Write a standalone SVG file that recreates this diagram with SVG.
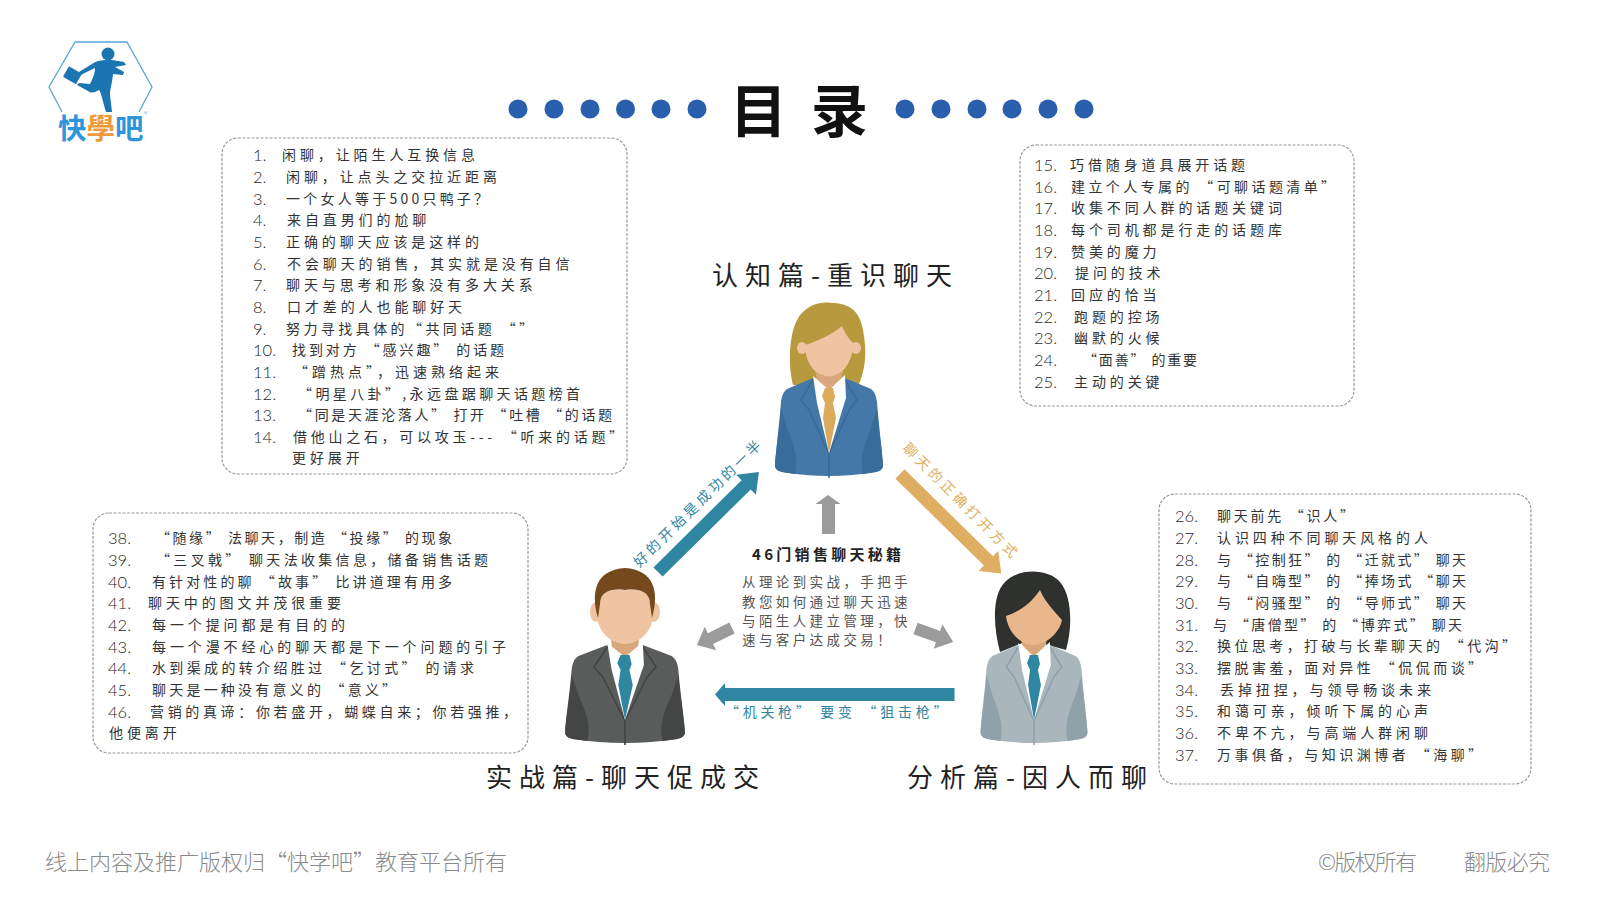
<svg xmlns="http://www.w3.org/2000/svg" width="1600" height="899" viewBox="0 0 1600 899">
<style>
text{font-family:"Noto Sans CJK SC","Noto Sans",sans-serif;white-space:pre}
.n{font-family:"Lato","Noto Sans",sans-serif;font-weight:300;font-size:16.5px;fill:#1f1f1f}
.t{font-size:14px;letter-spacing:3.9px;fill:#333;font-weight:400}
.box{fill:#fff;stroke:#9a9a9a;stroke-width:1.2;stroke-dasharray:3 1.5}
.dot{fill:#2a5fae}
.h{font-size:26px;letter-spacing:7px;fill:#222}
.foot{font-size:22px;fill:#8a8a8a;font-weight:300}
.at{font-size:14px;letter-spacing:3.6px;font-weight:400}
.g{fill:#9b9b9b}
.p{font-size:13.5px;letter-spacing:3.4px;fill:#555}
.jk{fill:var(--j)}.sd{fill:var(--s)}.lp{fill:none;stroke:var(--s);stroke-width:1.6}.ti{fill:var(--t)}
</style>
<defs>
<g id="body">
<path class="jk" d="M-16,0L-42,11C-46,14-47,18-48,24C-50,50-53,70-54,87C-54,91-51,93-47,94Q0,102 47,94C51,93 54,91 54,87C53,70 50,50 48,24C47,18 46,14 42,11L16,0L0,20Z"/>
<path class="sd" d="M-48,30C-50,55-53,72-54,87C-54,91-51,93-47,94L-34,96C-30,80-36,65-42,50Z"/>
<path class="sd" d="M48,30C50,55 53,72 54,87C54,91 51,93 47,94L34,96C30,80 36,65 42,50Z"/>
<path class="lp" d="M-16,2L-28,22L-20,32L0,76M16,2L28,22L20,32L0,76M0,76V100"/>
<path fill="#fff" d="M-16,-2L0,12L16,-3L17,20L0,75L-12,25Z"/>
<path class="ti" d="M-4,10L4,10L6,19L4,25L7,40L0,75L-6,40L-4,25L-7,18Z"/>
</g>
</defs>
<rect width="1600" height="899" fill="#fff"/>

<g id="logo">
<path d="M62,112L49,87L75,42H127L152,87L139,112" fill="none" stroke="#5aa5d8" stroke-width="1.3"/>
<circle cx="108" cy="54" r="6.5" fill="#1a75b0"/>
<path fill="#1a75b0" d="M92,64C97,60 104,60 112,60L124,62L126,65L115,67L124,72L123,75L113,74C112,85 110,88 110,95L112,112L106,112C103,102 101,92 99,90C95,92 92,94 88,91L77,85L79,83L90,84C92,80 95,74 95,68C90,70 85,73 81,75L79,72Z"/>
<rect x="65" y="69" width="15" height="12" rx="1" transform="rotate(30 72 75)" fill="#1a75b0"/>
<text x="58" y="139" font-size="28.5" font-weight="700" fill="#2e95d8">快<tspan fill="#ee9a3a">學</tspan>吧</text>
<text x="144" y="117" font-size="7" fill="#7fb5d8">®</text>
</g>

<g id="title">
<circle class="dot" cx="518" cy="109" r="9.5"/><circle class="dot" cx="554" cy="109" r="9.5"/><circle class="dot" cx="590" cy="109" r="9.5"/><circle class="dot" cx="625.500" cy="109" r="9.5"/><circle class="dot" cx="661" cy="109" r="9.5"/><circle class="dot" cx="697" cy="109" r="9.5"/>
<text x="730" y="132" font-size="57" font-weight="700" letter-spacing="24" fill="#111">目录</text>
<circle class="dot" cx="905" cy="109" r="9.5"/><circle class="dot" cx="941" cy="109" r="9.5"/><circle class="dot" cx="977" cy="109" r="9.5"/><circle class="dot" cx="1012" cy="109" r="9.5"/><circle class="dot" cx="1048" cy="109" r="9.5"/><circle class="dot" cx="1084" cy="109" r="9.5"/>
</g>

<g id="list-1">
<rect class="box" x="222" y="138" width="405" height="336" rx="16"/>
<text class="n" x="253" y="161">1.</text><text class="t" x="282" y="160">闲聊，让陌生人互换信息</text>
<text class="n" x="253" y="183">2.</text><text class="t" x="286" y="182">闲聊，让点头之交拉近距离</text>
<text class="n" x="253" y="205">3.</text><text class="t" x="286" y="204" textLength="206">一个女人等于500只鸭子？</text>
<text class="n" x="253" y="226">4.</text><text class="t" x="287" y="225">来自直男们的尬聊</text>
<text class="n" x="253" y="248">5.</text><text class="t" x="286" y="247">正确的聊天应该是这样的</text>
<text class="n" x="253" y="270">6.</text><text class="t" x="287" y="269">不会聊天的销售，其实就是没有自信</text>
<text class="n" x="253" y="291">7.</text><text class="t" x="286" y="290">聊天与思考和形象没有多大关系</text>
<text class="n" x="253" y="313">8.</text><text class="t" x="287" y="312">口才差的人也能聊好天</text>
<text class="n" x="253" y="335">9.</text><text class="t" x="286" y="334" textLength="251">努力寻找具体的“共同话题 “”</text>
<text class="n" x="253" y="356">10.</text><text class="t" x="292" y="355" textLength="216">找到对方 “感兴趣” 的话题</text>
<text class="n" x="253" y="378">11.</text><text class="t" x="294" y="377" textLength="209">“蹭热点”，迅速熟络起来</text>
<text class="n" x="253" y="400">12.</text><text class="t" x="298" y="399" textLength="286">“明星八卦”,永远盘踞聊天话题榜首</text>
<text class="n" x="253" y="421">13.</text><text class="t" x="298" y="420" textLength="318">“同是天涯沦落人” 打开 “吐槽 “的话题</text>
<text class="n" x="253" y="443">14.</text><text class="t" x="293" y="442" textLength="334">借他山之石，可以攻玉--- “听来的话题”</text>
<text class="t" x="292" y="463">更好展开</text>
</g>

<g id="list-2">
<rect class="box" x="1020" y="145" width="334" height="261" rx="16"/>
<text class="n" x="1034" y="171">15.</text><text class="t" x="1070" y="170">巧借随身道具展开话题</text>
<text class="n" x="1034" y="193">16.</text><text class="t" x="1071" y="192" textLength="268">建立个人专属的 “可聊话题清单”</text>
<text class="n" x="1034" y="214">17.</text><text class="t" x="1071" y="213">收集不同人群的话题关键词</text>
<text class="n" x="1034" y="236">18.</text><text class="t" x="1071" y="235">每个司机都是行走的话题库</text>
<text class="n" x="1034" y="258">19.</text><text class="t" x="1071" y="257">赞美的魔力</text>
<text class="n" x="1034" y="279">20.</text><text class="t" x="1075" y="278">提问的技术</text>
<text class="n" x="1034" y="301">21.</text><text class="t" x="1071" y="300">回应的恰当</text>
<text class="n" x="1034" y="323">22.</text><text class="t" x="1074" y="322">跑题的控场</text>
<text class="n" x="1034" y="344">23.</text><text class="t" x="1074" y="343">幽默的火候</text>
<text class="n" x="1034" y="366">24.</text><text class="t" x="1083" y="365" textLength="118">“面善” 的重要</text>
<text class="n" x="1034" y="388">25.</text><text class="t" x="1074" y="387">主动的关键</text>
</g>

<g id="list-3">
<rect class="box" x="93" y="513" width="435" height="240" rx="16"/>
<text class="n" x="108" y="544">38.</text><text class="t" x="156" y="543" textLength="300">“随缘” 法聊天，制造 “投缘” 的现象</text>
<text class="n" x="108" y="566">39.</text><text class="t" x="156" y="565" textLength="336">“三叉戟” 聊天法收集信息，储备销售话题</text>
<text class="n" x="108" y="588">40.</text><text class="t" x="152" y="587" textLength="304">有针对性的聊 “故事” 比讲道理有用多</text>
<text class="n" x="108" y="609">41.</text><text class="t" x="148" y="608">聊天中的图文并茂很重要</text>
<text class="n" x="108" y="631">42.</text><text class="t" x="152" y="630">每一个提问都是有目的的</text>
<text class="n" x="108" y="653">43.</text><text class="t" x="152" y="652">每一个漫不经心的聊天都是下一个问题的引子</text>
<text class="n" x="108" y="674">44.</text><text class="t" x="152" y="673" textLength="326">水到渠成的转介绍胜过 “乞讨式” 的请求</text>
<text class="n" x="108" y="696">45.</text><text class="t" x="152" y="695" textLength="248">聊天是一种没有意义的 “意义”</text>
<text class="n" x="108" y="718">46.</text><text class="t" x="150" y="717" textLength="371">营销的真谛：你若盛开，蝴蝶自来；你若强推，</text>
<text class="t" x="109" y="738">他便离开</text>
</g>

<g id="list-4">
<rect class="box" x="1159" y="494" width="372" height="290" rx="16"/>
<text class="n" x="1175" y="522">26.</text><text class="t" x="1217" y="521" textLength="141">聊天前先 “识人”</text>
<text class="n" x="1175" y="544">27.</text><text class="t" x="1217" y="543">认识四种不同聊天风格的人</text>
<text class="n" x="1175" y="566">28.</text><text class="t" x="1217" y="565" textLength="253">与 “控制狂” 的 “迁就式” 聊天</text>
<text class="n" x="1175" y="587">29.</text><text class="t" x="1217" y="586" textLength="253">与 “自嗨型” 的 “捧场式 “聊天</text>
<text class="n" x="1175" y="609">30.</text><text class="t" x="1217" y="608" textLength="253">与 “闷骚型” 的 “导师式” 聊天</text>
<text class="n" x="1175" y="631">31.</text><text class="t" x="1213" y="630" textLength="253">与 “唐僧型” 的 “博弈式” 聊天</text>
<text class="n" x="1175" y="652">32.</text><text class="t" x="1217" y="651" textLength="303">换位思考，打破与长辈聊天的 “代沟”</text>
<text class="n" x="1175" y="674">33.</text><text class="t" x="1217" y="673" textLength="269">摆脱害羞，面对异性 “侃侃而谈”</text>
<text class="n" x="1175" y="696">34.</text><text class="t" x="1220" y="695">丢掉扭捏，与领导畅谈未来</text>
<text class="n" x="1175" y="717">35.</text><text class="t" x="1217" y="716">和蔼可亲，倾听下属的心声</text>
<text class="n" x="1175" y="739">36.</text><text class="t" x="1217" y="738">不卑不亢，与高端人群闲聊</text>
<text class="n" x="1175" y="761">37.</text><text class="t" x="1217" y="760" textLength="269">万事俱备，与知识渊博者 “海聊”</text>
</g>

<g id="person-top">
<path fill="#b89a3e" d="M793,385C788,365 789,335 797,320C805,305 820,301 832,303C850,303 860,312 863,330C867,350 866,370 858,386Z"/>
<path fill="#d9a77c" d="M815,370H843L840,385L829,397L818,385Z"/>
<ellipse cx="802" cy="348" rx="5" ry="6" fill="#eec4a2"/><ellipse cx="856" cy="348" rx="5" ry="6" fill="#eec4a2"/>
<path fill="#eec4a2" d="M805,345C815,342 832,335 842,326C845,333 848,338 853,343C853,360 845,372 835,375Q829,378 823,375C812,372 805,360 805,345Z"/>
<use href="#body" transform="translate(829,378)" style="--j:#4478a8;--s:#386c9a;--t:#dcaa5b"/>
</g>

<g id="person-left">
<ellipse cx="596" cy="612" rx="6" ry="10" fill="#eec4a2"/><ellipse cx="654" cy="612" rx="6" ry="10" fill="#eec4a2"/>
<path fill="#d9a77c" d="M610,630H640L638,648L625,660L612,648Z"/>
<path fill="#eec4a2" d="M597,590H653V615C653,630 640,644 625,644C610,644 597,630 597,615Z"/>
<path fill="#744a1c" d="M598,618C590,590 597,570 625,568C653,570 660,590 652,618L650,604C650,592 640,588 625,590C610,588 600,592 600,604Z"/>
<use href="#body" transform="translate(625,645) scale(1.11,1)" style="--j:#5a5c5c;--s:#444646;--t:#2f86a0"/>
</g>

<g id="person-right">
<path fill="#2f312e" d="M1000,652C993,625 992,595 1005,582C1018,568 1048,568 1060,582C1073,597 1072,630 1066,650L1030,640Z"/>
<path fill="#d9a77c" d="M1020,625H1048L1046,645L1034,657L1022,645Z"/>
<path fill="#e8b78c" d="M1006,616C1018,612 1030,605 1040,590C1045,602 1055,612 1062,620C1060,632 1046,645 1034,645C1020,645 1008,632 1006,616Z"/>
<use href="#body" transform="translate(1034,645) scale(.99,1)" style="--j:#a9b7bd;--s:#8fa1a9;--t:#2f86a0"/>
</g>

<g id="connectors">
<path fill="#2f86a0" transform="translate(658,572) rotate(-44.700)" d="M0,-6.500H124V-14L142,0L124,14V6.500H0Z"/>
<path fill="#dfae62" transform="translate(900,474) rotate(44.500)" d="M0,-6.500H124V-14L142,0L124,14V6.500H0Z"/>
<path fill="#2f86a0" d="M954.500,688H725V683L715,694.500L725,706V701H954.500Z"/>
<path class="g" d="M822,534V504H815.500L828,495L840.500,504H835V534Z"/>
<path class="g" transform="translate(732,628) rotate(154)" d="M0,-6H24V-13L39,0L24,13V6H0Z"/>
<path class="g" transform="translate(915.500,628.500) rotate(19.800)" d="M0,-6H24V-13L40,0L24,13V6H0Z"/>
</g>

<g id="labels">
<text class="h" x="712" y="285">认知篇-重识聊天</text>
<text class="h" x="486" y="787">实战篇-聊天促成交</text>
<text class="h" x="907" y="787">分析篇-因人而聊</text>
<text class="at" fill="#2f86a0" text-anchor="middle" transform="translate(702,506) rotate(-44.700)">好的开始是成功的一半</text>
<text class="at" fill="#dfae62" text-anchor="middle" transform="translate(958,505) rotate(45)">聊天的正确打开方式</text>
<text class="at" fill="#2f86a0" x="725" y="717" textLength="226">“机关枪” 要变 “狙击枪”</text>
<text x="752" y="560" font-size="15" font-weight="700" letter-spacing="3.300" fill="#222">46门销售聊天秘籍</text>
<text class="p" x="742" y="587">从理论到实战，手把手</text>
<text class="p" x="742" y="607">教您如何通过聊天迅速</text>
<text class="p" x="742" y="626">与陌生人建立管理，快</text>
<text class="p" x="742" y="645">速与客户达成交易！</text>
</g>

<g id="footer">
<text class="foot" x="45" y="870">线上内容及推广版权归“快学吧”教育平台所有</text>
<text class="foot" x="1318" y="870" textLength="99">©版权所有</text>
<text class="foot" x="1464" y="870" textLength="86">翻版必究</text>
</g>
</svg>
